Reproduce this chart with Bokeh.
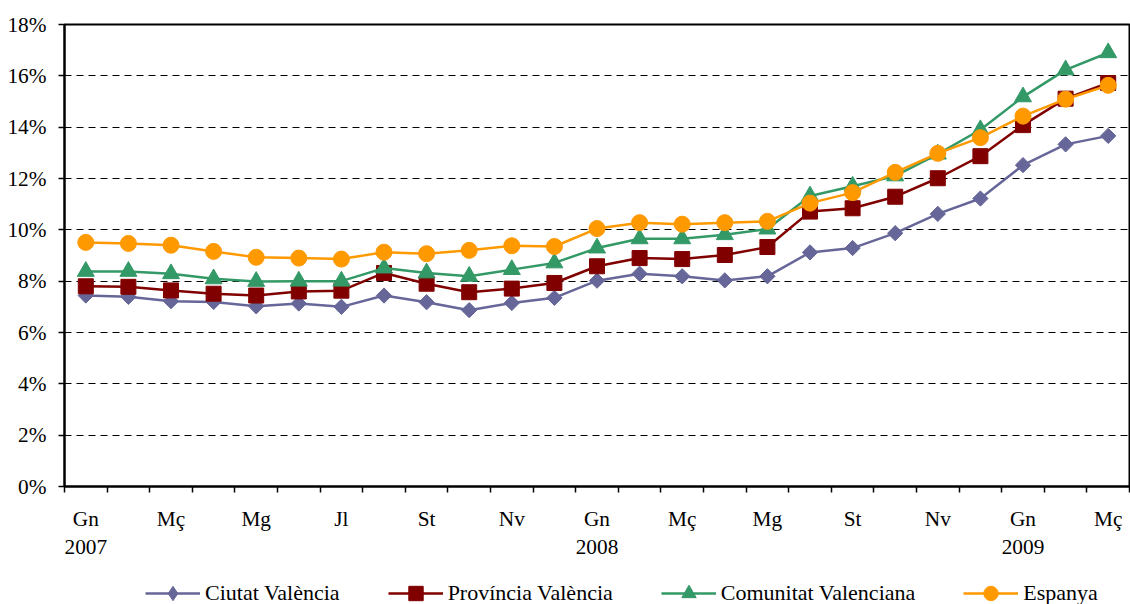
import math
from bokeh.plotting import figure
from bokeh.layouts import column
from bokeh.models import (Range1d, FixedTicker, PrintfTickFormatter, Legend, LegendItem)
from bokeh.embed import file_html
from bokeh.resources import INLINE

# ---- data ----
tick_labels = ["Gn\n2007", "Mç", "Mg", "Jl", "St", "Nv", "Gn\n2008", "Mç", "Mg",
               "St", "Nv", "Gn\n2009", "Mç"]
tick_index = [0, 2, 4, 6, 8, 10, 12, 14, 16, 18, 20, 22, 24]

ciutat = [7.44, 7.39, 7.22, 7.19, 7.02, 7.13, 7.00, 7.44, 7.18, 6.87, 7.15, 7.35,
          8.02, 8.29, 8.19, 8.03, 8.19, 9.12, 9.29, 9.87, 10.62, 11.22, 12.52, 13.33, 13.66]
provincia = [7.80, 7.78, 7.64, 7.51, 7.44, 7.60, 7.63, 8.32, 7.90, 7.57, 7.71, 7.93,
             8.58, 8.90, 8.86, 9.02, 9.33, 10.71, 10.84, 11.29, 12.01, 12.87, 14.08, 15.11, 15.72]
comunitat = [8.38, 8.38, 8.29, 8.09, 7.99, 8.00, 8.00, 8.51, 8.32, 8.19, 8.45, 8.71,
             9.29, 9.65, 9.65, 9.81, 10.03, 11.32, 11.70, 12.10, 12.95, 13.90, 15.18, 16.23, 16.90]
espanya = [9.51, 9.47, 9.40, 9.16, 8.93, 8.90, 8.86, 9.13, 9.07, 9.20, 9.38, 9.35,
           10.05, 10.28, 10.22, 10.28, 10.33, 11.04, 11.45, 12.24, 12.98, 13.59, 14.43, 15.09, 15.63]

names = ["Ciutat València", "Província València", "Comunitat Valenciana", "Espanya"]
colors = ["#666699", "#800000", "#339966", "#FF9900"]

x = list(range(len(ciutat)))
FONT = "Liberation Serif"
FS = "21.3px"

p = figure(width=1130, height=562, output_backend="svg", toolbar_location=None,
           x_range=Range1d(-0.5, len(x) - 0.5), y_range=Range1d(0, 18),
           min_border_left=64, min_border_right=1, min_border_top=24, min_border_bottom=74)

p.background_fill_color = "white"
p.border_fill_color = "white"
p.outline_line_color = "black"
p.outline_line_width = 2
p.xgrid.grid_line_color = None
p.ygrid.ticker = FixedTicker(ticks=list(range(0, 19, 2)))
p.ygrid.grid_line_color = "black"
p.ygrid.grid_line_dash = "7 5"
p.ygrid.grid_line_width = 1

# y axis
ya = p.yaxis[0]
ya.ticker = FixedTicker(ticks=list(range(0, 19, 2)))
ya.formatter = PrintfTickFormatter(format="%d%%")
ya.axis_line_width = 2
ya.axis_line_color = "black"
ya.major_tick_out = 6
ya.major_tick_in = 0
ya.major_tick_line_width = 1.5
ya.minor_tick_line_color = None
ya.major_label_standoff = 12
ya.major_label_text_font = FONT
ya.major_label_text_font_size = FS
ya.major_label_text_color = "black"

# x axis
xa = p.xaxis[0]
xa.ticker = FixedTicker(ticks=tick_index, minor_ticks=[i - 0.5 for i in range(len(x) + 1)])
xa.major_label_overrides = {t: lab for t, lab in zip(tick_index, tick_labels)}
xa.axis_line_width = 2
xa.axis_line_color = "black"
xa.major_tick_line_color = None
xa.major_tick_out = 6
xa.major_tick_in = 0
xa.minor_tick_out = 6
xa.minor_tick_in = 0
xa.minor_tick_line_color = "black"
xa.minor_tick_line_width = 1.5
xa.major_label_standoff = 14
xa.major_label_text_font = FONT
xa.major_label_text_font_size = FS
xa.major_label_text_color = "black"
xa.major_label_text_line_height = 1.2

# legend strip (separate figure below the chart; its ranges keep the
# proxy series out of view so only the legend shows)
p2 = figure(width=1130, height=42, output_backend="svg", toolbar_location=None,
            x_range=Range1d(1000, 1001), y_range=Range1d(1000, 1001),
            x_axis_location=None, y_axis_location=None, min_border=0)
p2.outline_line_color = None
p2.grid.grid_line_color = None
p2.background_fill_color = "white"
p2.border_fill_color = "white"

legend_markers = ["diamond", "square", "triangle", "circle"]
series = [ciutat, provincia, comunitat, espanya]
items = []
for name, col, ys, lm in zip(names, colors, series, legend_markers):
    p.line(x, ys, line_color=col, line_width=2.5)
    if lm == "diamond":
        p.scatter(x, ys, marker="square", size=10.8, angle=math.pi / 4,
                  fill_color=col, line_color=col)
    elif lm == "square":
        p.scatter(x, ys, marker="square", size=15, fill_color=col, line_color=col)
    elif lm == "triangle":
        p.scatter(x, ys, marker="triangle", size=17, fill_color=col, line_color=col)
    else:
        p.scatter(x, ys, marker="circle", size=16, fill_color=col, line_color=col)
    dl = p2.line(x, ys, line_color=col, line_width=2.5)
    ds = p2.scatter(x, ys, marker=lm, fill_color=col, line_color=col)
    items.append(LegendItem(label=name, renderers=[dl, ds]))

legend = Legend(items=items, orientation="horizontal", location=(81, -7),
                glyph_width=55, glyph_height=36, label_standoff=5, spacing=48,
                padding=0, margin=0, border_line_color=None, background_fill_alpha=0,
                label_text_font=FONT, label_text_font_size="22px", label_text_color="black")
p2.add_layout(legend, "center")

layout = column(p, p2, spacing=0)
open("out.html", "w").write(file_html(layout, INLINE))
